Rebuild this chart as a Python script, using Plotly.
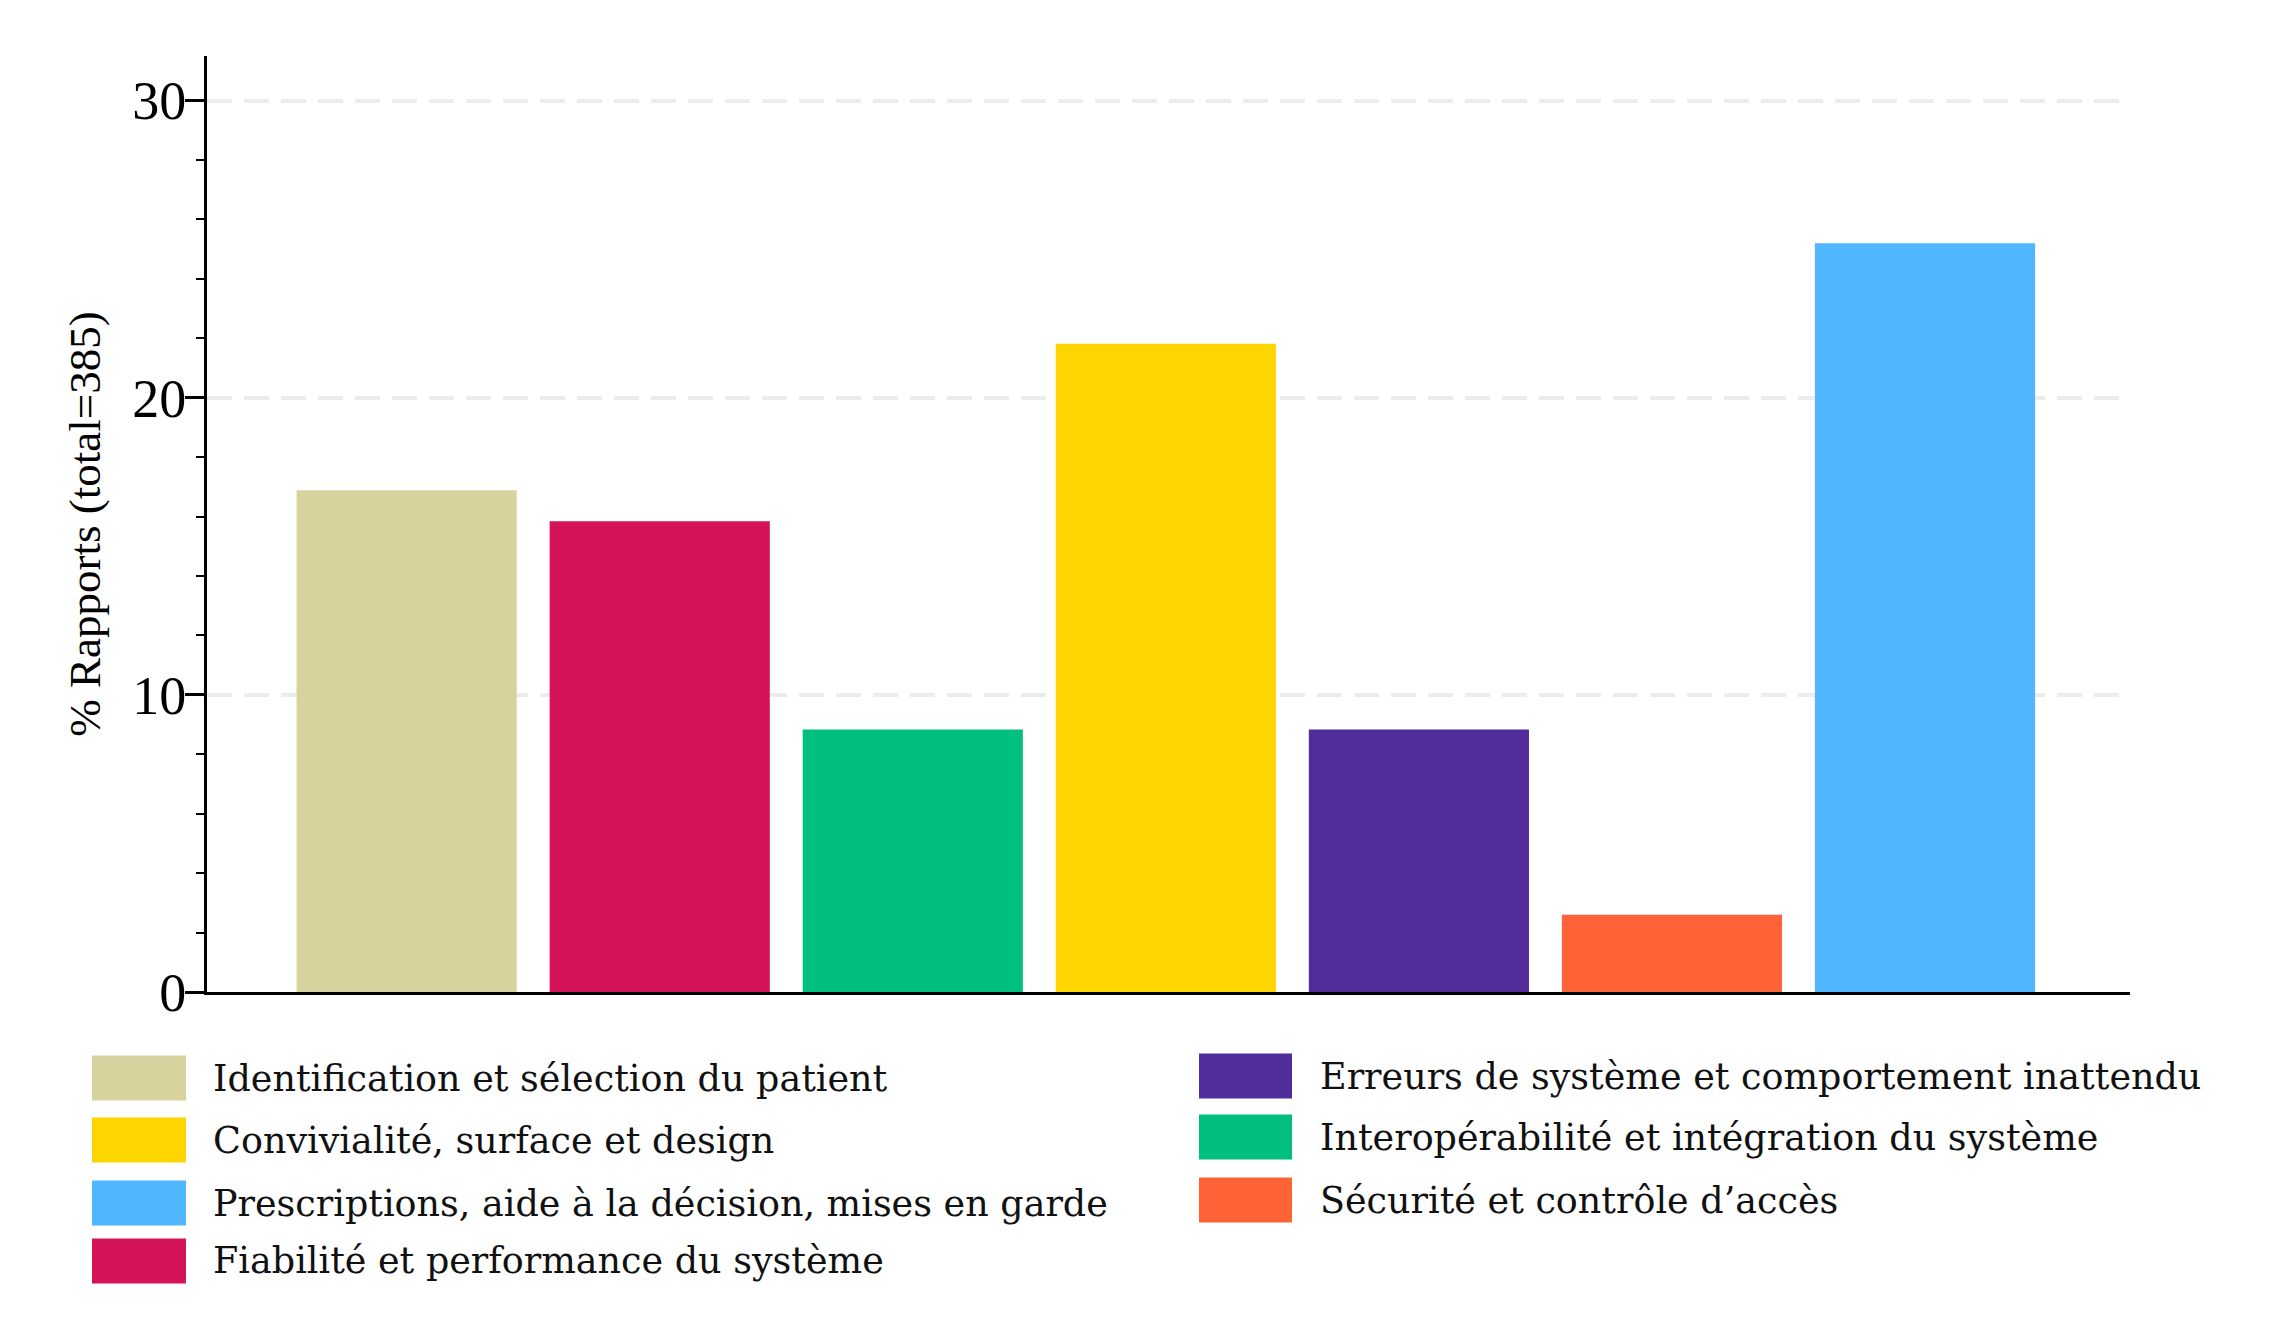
import plotly.graph_objects as go

# bar data, counts out of 385 reports
categories = [
    "Identification et sélection du patient",
    "Fiabilité et performance du système",
    "Interopérabilité et intégration du système",
    "Convivialité, surface et design",
    "Erreurs de système et comportement inattendu",
    "Sécurité et contrôle d’accès",
    "Prescriptions, aide à la décision, mises en garde",
]
counts = [65, 61, 34, 84, 34, 10, 97]
total = 385
percent = [c / total * 100 for c in counts]
colors = ["#D8D29F", "#D51358", "#00BF7F", "#FFD500", "#512D9B", "#FF6236", "#50B6FF"]

# legend layout: two columns, same order as the reference
legend_col1 = [0, 3, 6, 1]
legend_col2 = [4, 2, 5]

# the page body adds an 8px offset, so work in page pixels and subtract it
OFF = 8
W, H = 2269 - 2 * OFF, 1322 - 2 * OFF
L, R, T, B = 207 - OFF, 2130 - OFF, 56 - OFF, 992 - OFF  # plot area in figure pixels


def px_x(px):
    return (px - OFF - L) / (R - L)


def px_y(py):
    return (B - (py - OFF)) / (B - T)


fig = go.Figure()
fig.add_trace(
    go.Bar(
        x=list(range(len(categories))),
        y=percent,
        marker=dict(color=colors, line=dict(width=0)),
        hovertext=categories,
        showlegend=False,
    )
)

shapes = []
annotations = []
for idxs, sx0, sx1, tx, centers in [
    (legend_col1, 92, 186, 211, [1078, 1140, 1203, 1261]),
    (legend_col2, 1199, 1292, 1318, [1076, 1137, 1200]),
]:
    for i, cy in zip(idxs, centers):
        shapes.append(
            dict(
                type="rect", xref="paper", yref="paper",
                x0=px_x(sx0), x1=px_x(sx1),
                y0=px_y(cy + 22.5), y1=px_y(cy - 22.5),
                fillcolor=colors[i], line=dict(width=0),
            )
        )
        annotations.append(
            dict(
                text=categories[i], xref="paper", yref="paper",
                x=px_x(tx), y=px_y(cy), xanchor="left", yanchor="middle",
                showarrow=False,
                font=dict(family="DejaVu Serif", size=36.5, color="#111111"),
            )
        )

fig.update_layout(
    width=W,
    height=H,
    margin=dict(l=L, r=W - R, t=T, b=H - B, pad=0),
    plot_bgcolor="white",
    paper_bgcolor="white",
    bargap=0.13,
    font=dict(family="Liberation Serif", color="black"),
    shapes=shapes,
    annotations=annotations,
    xaxis=dict(
        range=[-0.789, 6.81],
        showticklabels=False,
        ticks="",
        showgrid=False,
        zeroline=False,
        showline=True,
        linecolor="black",
        linewidth=3,
    ),
    yaxis=dict(
        range=[0, 31.5],
        tickvals=[0, 10, 20, 30],
        ticks="outside",
        ticklen=19,
        tickwidth=2.5,
        tickcolor="black",
        tickfont=dict(family="Liberation Serif", size=54, color="black"),
        ticklabelstandoff=-12,
        minor=dict(dtick=2, ticks="outside", ticklen=8, tickwidth=2, tickcolor="black", showgrid=False),
        showgrid=True,
        gridcolor="#ececec",
        gridwidth=4,
        griddash="25px,12px",
        zeroline=False,
        showline=True,
        linecolor="black",
        linewidth=3,
        title=dict(
            text="% Rapports (total=385)",
            font=dict(family="Liberation Serif", size=45, color="black"),
            standoff=18,
        ),
    ),
)

fig.write_html("out.html")
